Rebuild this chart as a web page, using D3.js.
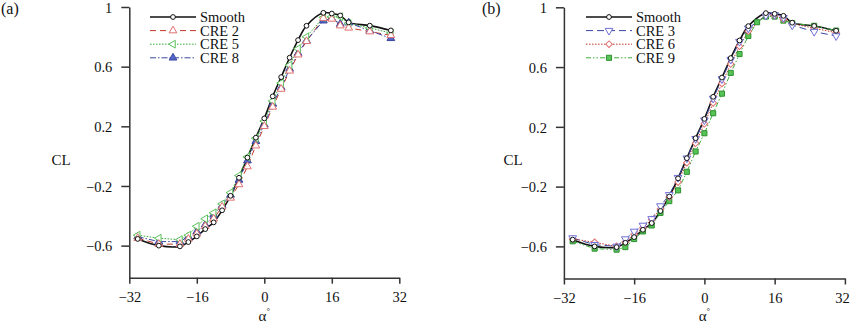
<!DOCTYPE html>
<html>
<head>
<meta charset="utf-8">
<script src="https://cdn.jsdelivr.net/npm/d3@7"></script>
<style>
  body { margin: 0; background: #fff; }
  svg { display: block; font-family: "Liberation Serif", "Times New Roman", serif; }
  svg text { font-family: "Liberation Serif", "Times New Roman", serif; }
</style>
</head>
<body>
<svg id="chart"></svg>
<script>
// angle of attack (deg)
const alpha = [-30, -25, -20, -18, -16, -14, -12, -10, -8, -6, -4, -2, 0, 2, 4, 6, 8, 10, 14, 16, 18, 20, 25, 30];
const alphaB = [-30, -25, -20, -18, -16, -14, -12, -10, -8, -6, -4, -2, 0, 2, 4, 6, 8, 10, 12, 14, 16, 18, 20, 25, 30];

const xTicks = [-32, -16, 0, 16, 32];
const yTicks = [-0.6, -0.2, 0.2, 0.6, 1];

// lift coefficient, smooth blade
const smooth = [-0.555, -0.6, -0.605, -0.576, -0.538, -0.489, -0.444, -0.363, -0.266, -0.145, -0.01, 0.124, 0.253, 0.401, 0.53, 0.66, 0.778, 0.874, 0.961, 0.956, 0.943, 0.897, 0.875, 0.843];

// panel (a)
const cre2 = [-0.55, -0.59, -0.59, -0.555, -0.52, -0.47, -0.42, -0.34, -0.28, -0.19, -0.07, 0.07, 0.2, 0.33, 0.45, 0.572, 0.68, 0.77, 0.925, 0.92, 0.875, 0.86, 0.835, 0.81];
const cre5 = [-0.53, -0.55, -0.56, -0.53, -0.47, -0.42, -0.38, -0.32, -0.245, -0.13, -0.005, 0.12, 0.235, 0.37, 0.49, 0.61, 0.72, 0.8, 0.93, 0.935, 0.935, 0.89, 0.86, 0.825];
const cre8 = [-0.54, -0.573, -0.573, -0.54, -0.506, -0.46, -0.394, -0.33, -0.26, -0.16, -0.03, 0.1, 0.21, 0.35, 0.46, 0.585, 0.69, 0.775, 0.908, 0.924, 0.886, 0.895, 0.841, 0.79];

// panel (b)
const cre3 = [-0.544, -0.589, -0.6, -0.551, -0.5, -0.46, -0.416, -0.33, -0.255, -0.14, -0.01, 0.12, 0.245, 0.39, 0.52, 0.65, 0.77, 0.86, 0.945, 0.95, 0.93, 0.88, 0.837, 0.808];
const cre6 = [-0.55, -0.573, -0.6, -0.57, -0.52, -0.475, -0.42, -0.35, -0.27, -0.17, -0.04, 0.09, 0.22, 0.36, 0.49, 0.62, 0.74, 0.84, 0.95, 0.945, 0.92, 0.89, 0.86, 0.83];
const cre9 = [-0.566, -0.615, -0.622, -0.605, -0.551, -0.5, -0.46, -0.376, -0.297, -0.225, -0.101, 0.035, 0.157, 0.291, 0.422, 0.561, 0.687, 0.808, 0.9, 0.938, 0.938, 0.911, 0.894, 0.876, 0.844];

const styles = {
  "Smooth": { color: "#111", width: 1.6, dash: null, marker: "circle", fill: "#fff", curve: d3.curveCatmullRom.alpha(0.5) },
  "CRE 2": { color: "#c0392b", mcolor: "#e07070", width: 1, dash: "6,4", marker: "triUp", fill: "#fff" },
  "CRE 5": { color: "#3dae3d", mcolor: "#5cc05c", width: 1, dash: "1.6,1.4", marker: "triLeft", fill: "#fff" },
  "CRE 8": { color: "#3a46a0", mcolor: "#3a46a0", width: 1, dash: "6,2,1.5,2", marker: "triUp", fill: "#5566c8" },
  "CRE 3": { color: "#3a46a0", mcolor: "#7070d8", width: 1, dash: "7,4", marker: "triDown", fill: "#fff" },
  "CRE 6": { color: "#c0392b", mcolor: "#e07070", width: 1, dash: "1.5,1.5", marker: "diamond", fill: "#fff" },
  "CRE 9": { color: "#3dae3d", mcolor: "#2f8f2f", width: 1, dash: "5,2,1.5,2,1.5,2", marker: "square", fill: "#56c456" }
};

const panels = [
  {
    label: "(a)", labelX: 1, xRange: [129.3, 399.3], yRange: [277.7, 7], yLabelX: 61, legendX: 150,
    series: [
      { name: "Smooth", x: alpha, y: smooth },
      { name: "CRE 2", x: alpha, y: cre2 },
      { name: "CRE 5", x: alpha, y: cre5 },
      { name: "CRE 8", x: alpha, y: cre8 }
    ]
  },
  {
    label: "(b)", labelX: 482, xRange: [563.9, 844.9], yRange: [278.5, 7.3], yLabelX: 513, legendX: 586,
    series: [
      { name: "Smooth", x: alpha, y: smooth },
      { name: "CRE 3", x: alpha, y: cre3 },
      { name: "CRE 6", x: alpha, y: cre6 },
      { name: "CRE 9", x: alphaB, y: cre9 }
    ]
  }
];

const width = 850;
const height = 325;
const serif = '"Liberation Serif", "Times New Roman", serif';

const svg = d3.select("#chart").attr("width", width).attr("height", height);

function drawMarker(g, type, cx, cy, st) {
  let sym, size = 26, rot = 0;
  if (type === "circle") { sym = d3.symbolCircle; size = 18; }
  else if (type === "triUp") { sym = d3.symbolTriangle; }
  else if (type === "triDown") { sym = d3.symbolTriangle; rot = 180; }
  else if (type === "triLeft") { sym = d3.symbolTriangle; rot = -90; }
  else if (type === "diamond") { sym = d3.symbolSquare; size = 22; rot = 45; }
  else { sym = d3.symbolSquare; size = 26; }
  g.append("path")
    .attr("d", d3.symbol().type(sym).size(size)())
    .attr("transform", `translate(${cx},${cy}) rotate(${rot})`)
    .attr("fill", st.fill)
    .attr("stroke", st.mcolor || st.color)
    .attr("stroke-width", 1);
}

panels.forEach((p) => {
  const x = d3.scaleLinear().domain([-32, 32]).range(p.xRange);
  const y = d3.scaleLinear().domain([-0.815, 1]).range(p.yRange);
  const g = svg.append("g");

  // axes
  const xAxis = g.append("g")
    .attr("transform", `translate(0,${p.yRange[0]})`)
    .call(d3.axisBottom(x).tickValues(xTicks).tickSize(6).tickPadding(8).tickSizeOuter(0));
  const yAxis = g.append("g")
    .attr("transform", `translate(${p.xRange[0]},0)`)
    .call(d3.axisLeft(y).tickValues(yTicks).tickSize(8).tickPadding(9).tickSizeOuter(0)
      .tickFormat((d) => (d === 1 ? "1" : d3.format(".1f")(d))));
  [xAxis, yAxis].forEach((a) => {
    a.attr("font-family", serif);
    a.select(".domain").attr("stroke", "#333").attr("stroke-width", 1.5);
    a.selectAll(".tick line").attr("stroke", "#333").attr("stroke-width", 1.5);
    a.selectAll(".tick text")
      .attr("fill", "#111")
      .attr("font-family", serif)
      .style("font-size", "14.5px");
  });
  yAxis.selectAll(".tick text").attr("dy", "0.36em");
  // keep the last x label inside the picture
  xAxis.selectAll(".tick text").filter((d) => d === 32).attr("dx", p.xRange[1] > 840 ? -3 : 0);

  // series
  p.series.forEach((s) => {
    const st = styles[s.name];
    const pts = s.x.map((a, i) => [a, s.y[i]]);
    g.append("path")
      .datum(pts)
      .attr("fill", "none")
      .attr("stroke", st.color)
      .attr("stroke-width", st.width)
      .attr("stroke-dasharray", st.dash)
      .attr("d", d3.line().x((d) => x(d[0])).y((d) => y(d[1])).curve(st.curve || d3.curveLinear));
  });
  p.series.slice().reverse().forEach((s) => {
    const st = styles[s.name];
    s.x.forEach((a, i) => drawMarker(g, st.marker, x(a), y(s.y[i]), st));
  });

  // legend
  const lg = g.append("g");
  p.series.forEach((s, i) => {
    const st = styles[s.name];
    const ly = 17 + i * 13.6;
    lg.append("line")
      .attr("x1", p.legendX).attr("x2", p.legendX + 46)
      .attr("y1", ly).attr("y2", ly)
      .attr("stroke", st.color)
      .attr("stroke-width", st.width)
      .attr("stroke-dasharray", st.dash);
    drawMarker(lg, st.marker, p.legendX + 23, ly, st);
    lg.append("text")
      .attr("x", p.legendX + 50)
      .attr("y", ly)
      .attr("dy", "0.35em")
      .attr("font-family", serif)
      .style("font-size", "14.5px")
      .attr("fill", "#111")
      .text(s.name);
  });

  // labels
  g.append("text")
    .attr("x", p.labelX).attr("y", 14)
    .attr("font-family", serif)
    .style("font-size", "16px").attr("fill", "#111")
    .text(p.label);
  g.append("text")
    .attr("x", p.yLabelX).attr("y", 160).attr("dy", "0.35em")
    .attr("text-anchor", "middle")
    .attr("font-family", serif)
    .style("font-size", "15px").attr("fill", "#111")
    .text("CL");
  const xl = g.append("text")
    .attr("x", x(0)).attr("y", 321)
    .attr("text-anchor", "middle")
    .attr("font-family", serif)
    .style("font-size", "15px").attr("fill", "#111");
  xl.append("tspan").text("α");
  xl.append("tspan").attr("dy", -7).style("font-size", "9px").text("°");
});
</script>
</body>
</html>
